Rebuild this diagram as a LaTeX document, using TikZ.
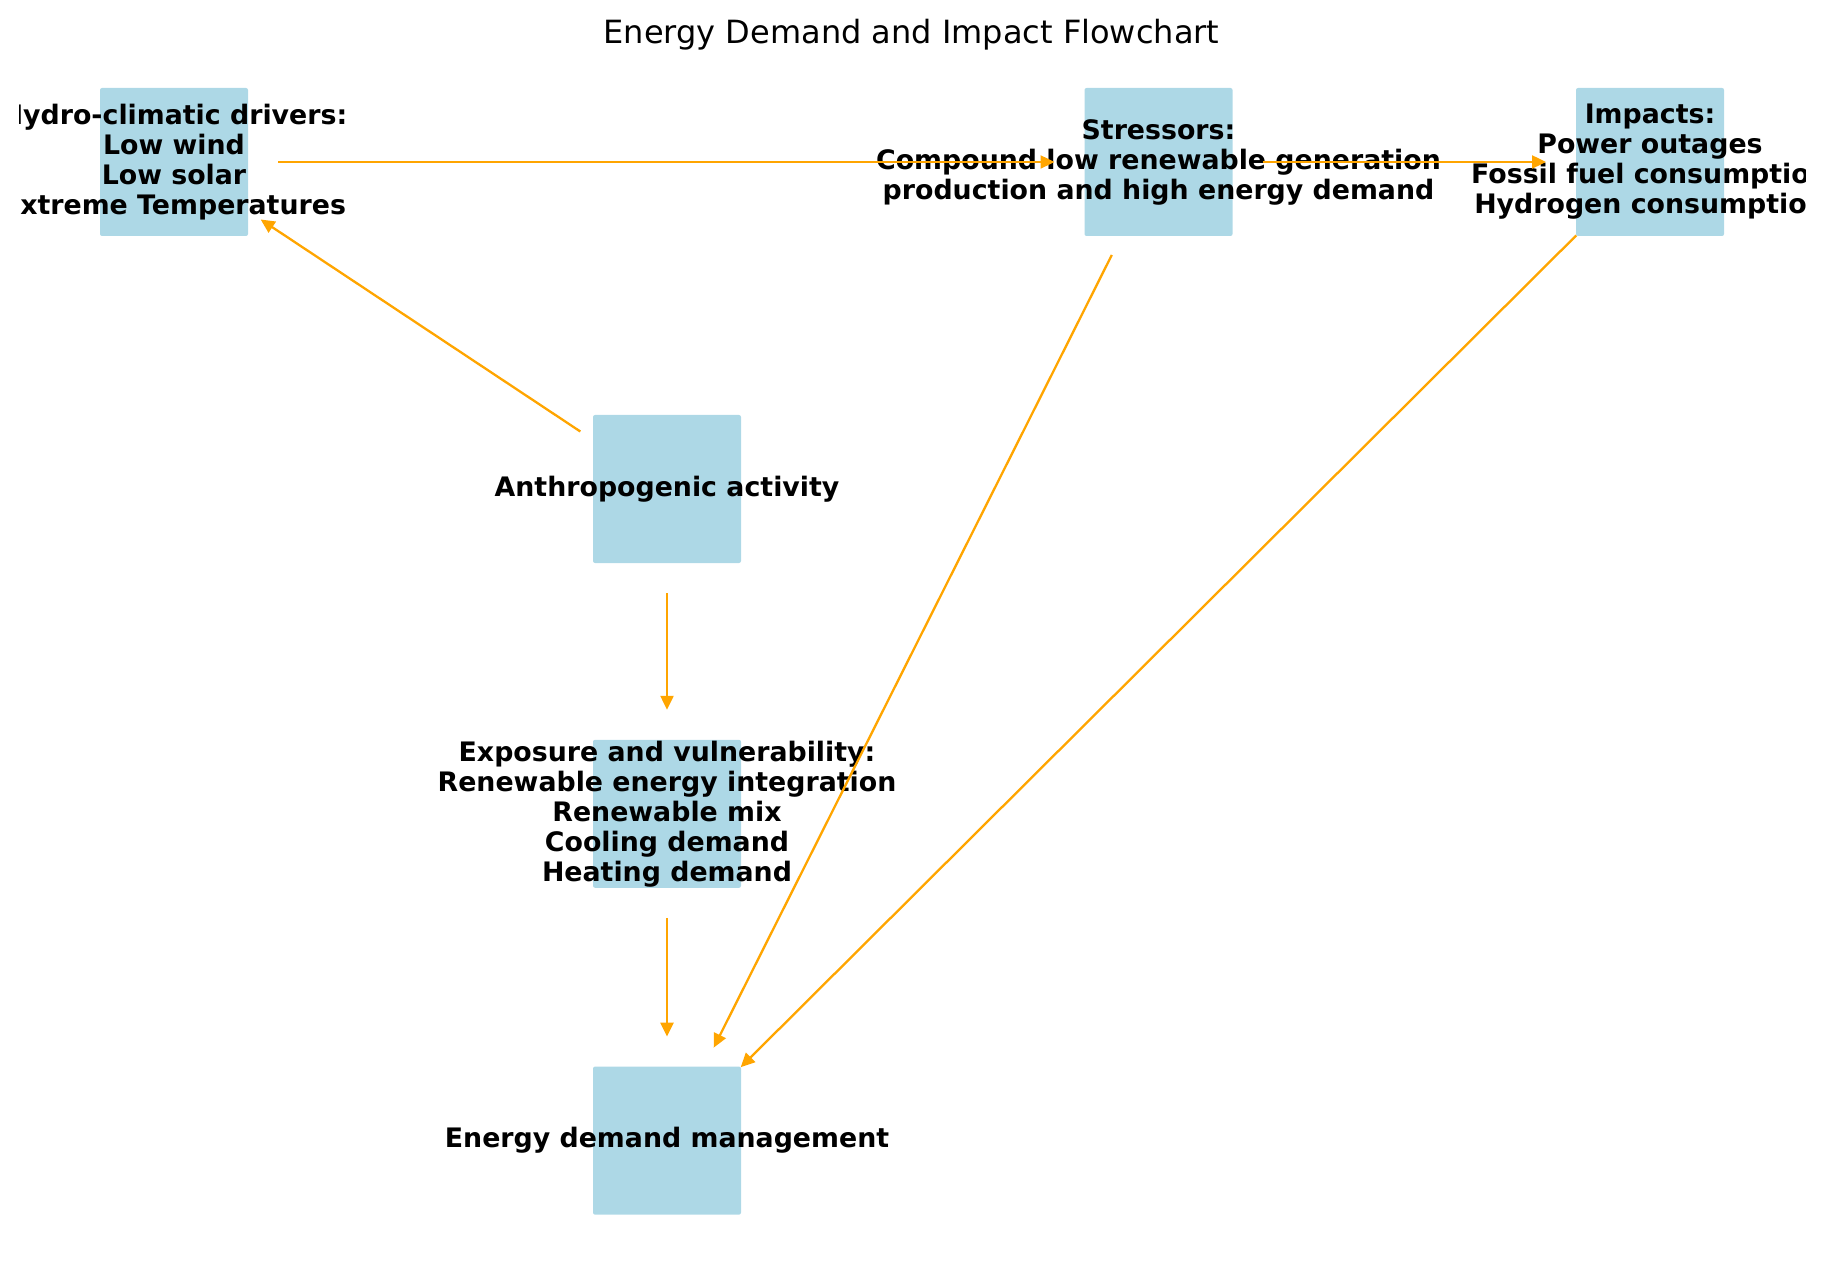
\documentclass[tikz,border=0pt]{standalone}
\usepackage{fontspec}
\setmainfont{DejaVu Sans}
\usetikzlibrary{arrows.meta,positioning}
\definecolor{boxfill}{HTML}{ADD8E6}
\definecolor{flow}{HTML}{FFA500}
\tikzset{box/.style={fill=boxfill,rounded corners=1pt,minimum size=74pt,inner sep=0pt},
  boxtext/.style={font=\bfseries\fontsize{13.4}{15}\selectfont,align=center,inner sep=0pt},
  arrow/.style={-{Triangle[length=7pt,width=6.5pt]},line width=1.15pt,draw=flow,
  shorten <=52pt,shorten >=52pt}}

\begin{document}
\begin{tikzpicture}[x=0.5pt,y=-0.5pt]
\useasboundingbox (0,0) rectangle (1823,1261);
\node[font=\fontsize{16}{19}\selectfont] (title) at (911.5,35) {Energy Demand and Impact Flowchart};
% boxes
\node[box] (hydro) at (174,162) {};
\node[box] (stress) at (1158.5,162) {};
\node[box] (impact) at (1650,162) {};
\node[box] (anthro) at (667,489) {};
\node[box,below=88pt of anthro] (expo) {};
\node[box,below=89pt of expo] (demand) {};
% texts, cut at the sides
\begin{scope}
\clip (19,0) rectangle (1805,1261);
\node[boxtext] (hydro-t) at (hydro) {Hydro-climatic drivers:\\Low wind\\Low solar\\Extreme Temperatures};
\node[boxtext] (stress-t) at (stress) {Stressors:\\Compound low renewable generation\\production and high energy demand};
\node[boxtext] (impact-t) at (impact) {Impacts:\\Power outages\\Fossil fuel consumption\\Hydrogen consumption};
\node[boxtext] (anthro-t) at (anthro) {Anthropogenic activity};
\node[boxtext] (expo-t) at (expo) {Exposure and vulnerability:\\Renewable energy integration\\Renewable mix\\Cooling demand\\Heating demand};
\node[boxtext] (demand-t) at (demand) {Energy demand management};
\end{scope}
% connectors
\draw[arrow] (hydro.center) -- (stress.center);
\draw[arrow] (stress.center) -- (impact.center);
\draw[arrow] (anthro.center) -- (hydro.center);
\draw[arrow] (anthro.center) -- (expo.center);
\draw[arrow] (expo.center) -- (demand.center);
\draw[arrow] (stress.center) -- (demand.center);
\draw[arrow] (impact.center) -- (demand.center);
\end{tikzpicture}
\end{document}
